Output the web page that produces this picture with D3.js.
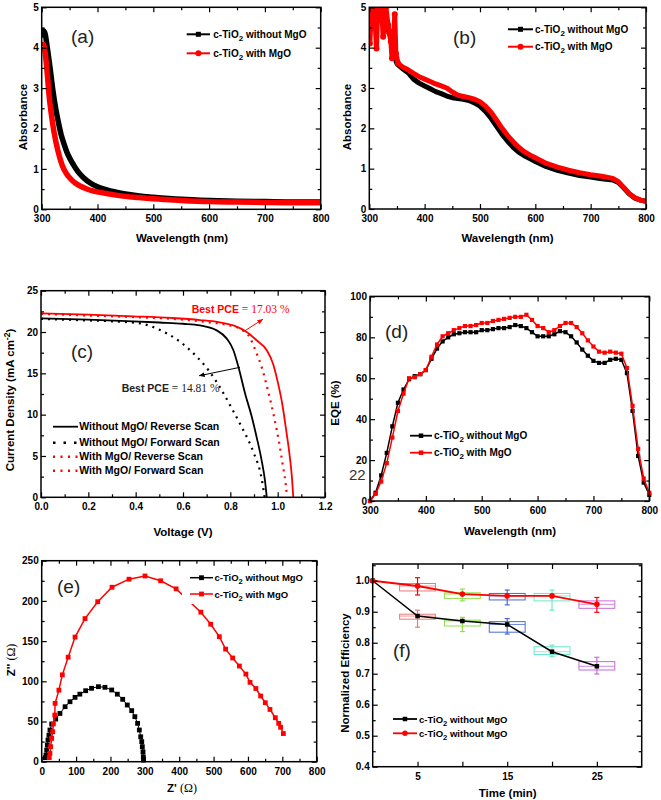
<!DOCTYPE html>
<html><head><meta charset="utf-8">
<script src="https://cdn.jsdelivr.net/npm/d3@7"></script>
<style>body{margin:0;background:#fff}</style>
</head><body>
<script>
// ---------- Panel (a) ----------
const aWlBlack = [300,303,306,310,315,320,325,330,335,340,345,350,357,365,375,387,400,425,450,475,500,550,600,650,700,750,800];
const aAbsBlack = [4.25,4.42,4.35,4.0,3.5,2.95,2.5,2.15,1.84,1.62,1.42,1.27,1.1,0.93,0.78,0.65,0.56,0.45,0.38,0.33,0.3,0.25,0.22,0.2,0.19,0.18,0.18];
const aWlRed = [300,303,306,310,313,317,322,329,337,345,350,360,370,380,390,400,425,450,475,500,550,600,650,700,750,800];
const aAbsRed = [4.05,4.08,3.9,3.35,2.85,2.38,1.92,1.45,1.08,0.87,0.78,0.65,0.57,0.51,0.46,0.43,0.37,0.32,0.29,0.26,0.22,0.19,0.18,0.17,0.16,0.16];
// ---------- Panel (b) ----------
const bWlBlack = [300,306,312,320,330,336,340,345,350,360,370,380,390,400,410,420,430,440,450,460,470,480,490,500,510,520,530,540,550,560,570,580,590,600,620,640,660,680,700,720,740,750,760,770,780,790,800];
const bAbsBlack = [4.9,4.8,4.95,4.7,4.5,4.4,4.2,3.8,3.6,3.48,3.38,3.22,3.12,3.05,2.98,2.91,2.86,2.8,2.76,2.74,2.72,2.69,2.63,2.55,2.42,2.25,2.05,1.85,1.68,1.53,1.41,1.32,1.25,1.18,1.05,0.96,0.89,0.83,0.79,0.75,0.72,0.66,0.52,0.37,0.27,0.22,0.19];
const bWlRed = [300,301,304,310,313,315,319,322,325,327,330,334,336,339,341,343,346,348,352,360,370,380,390,400,410,420,430,440,450,460,470,480,490,500,510,520,530,540,550,560,570,580,590,600,620,640,660,680,700,720,740,750,760,770,780,790,800];
const bAbsRed = [4.4,4.1,5.0,4.77,3.98,4.93,4.85,5.0,4.27,4.6,5.0,4.56,4.36,4.15,3.74,3.94,4.83,3.86,3.61,3.52,3.45,3.36,3.28,3.22,3.16,3.1,3.05,3.0,2.9,2.82,2.79,2.76,2.72,2.66,2.55,2.4,2.2,2.0,1.82,1.67,1.53,1.42,1.34,1.27,1.13,1.04,0.96,0.9,0.85,0.81,0.76,0.68,0.53,0.38,0.28,0.22,0.19];
// ---------- Panel (c) ----------
const cVBlackRev = [0,0.2,0.39,0.5,0.6,0.672,0.742,0.785,0.813,0.834,0.862,0.89,0.911,0.932,0.946,0.954];
const cJBlackRev = [21.65,21.5,21.3,21.15,21.0,20.8,20.2,19.2,17.8,15.8,12.6,9.8,7.3,4.5,2.1,0];
const cVBlackFwd = [0,0.1,0.2,0.3,0.418,0.503,0.587,0.651,0.707,0.763,0.806,0.848,0.897,0.932,0.945];
const cJBlackFwd = [21.6,21.5,21.4,21.3,21.05,20.24,18.83,17.22,15.4,12.98,10.77,8.5,5.5,2.3,0];
const cVRedRev = [0,0.2,0.39,0.55,0.672,0.75,0.813,0.869,0.911,0.954,0.98,1.0,1.02,1.035,1.05,1.06,1.066];
const cJRedRev = [22.26,22.1,21.9,21.7,21.45,21.2,20.8,20.0,19.0,17.8,16.2,14.0,11.2,8.3,5.2,2.5,0];
const cVRedFwd = [0,0.2,0.4,0.6,0.7,0.78,0.84,0.883,0.91,0.935,0.96,0.985,1.005,1.02,1.033,1.04];
const cJRedFwd = [22.2,22.0,21.8,21.5,21.2,20.9,20.4,19.3,17.5,15.5,12.8,9.7,6.8,4.2,1.8,0];
const cLegend = ["Without MgO/ Reverse Scan","Without MgO/ Forward Scan","With MgO/ Reverse Scan","With MgO/ Forward Scan"];
const cArrowRed = [[0.862,20.16],[0.937,21.54]];
const cArrowBlack = [[0.841,15.73],[0.669,14.71]];
// ---------- Panel (d) ----------
const dWl = [300,310,320,330,340,350,360,370,380,390,400,410,420,430,440,450,460,470,480,490,500,510,520,530,540,550,560,570,580,590,600,610,620,630,640,650,660,670,680,690,700,710,720,730,740,750,760,770,780,790,800];
const dEqeBlack = [0,4,12.5,23.5,36.5,48,54.5,59.5,61,62,64,69.5,74.5,78,80,81.5,82,82.5,82.5,82.5,83.5,83.5,84,84.5,84.5,85,86,85.5,84.5,82.5,80.5,80.5,80.5,81.5,83,82.5,80.5,77.5,74,71,68.5,67.5,67.5,69,69.5,69,62.5,44,22,9,3];
const dEqeRed = [0,3.5,9.5,18.5,31,44,52.5,60,60.5,62,64,70.5,76.5,80.5,82,83.5,84.5,85.5,85.5,86,87,87,88,88.5,89,89.5,90,90,91,88.5,85.5,84.5,82.5,83.5,85.5,87,87,85,82,78.5,75.5,73,72.5,73,72.5,72,65,46.5,25.5,11,4];
// ---------- Panel (e) ----------
const eZreBlack = [10.5,12.5,14.5,16.3,18.3,21,24,29,40.7,53,68,82.3,97,111,128,145,165,184,203.6,220,235.6,249,261.8,271,279,284,288,291,292.7,294.7,295.6,296];
const eZimBlack = [5,8.3,14.5,20.8,27,33,39.4,46.9,53,60,68.4,74.6,80,84,88.3,91.3,93.3,92.5,89.2,84,77.6,70.5,63.5,56,47.7,39.4,31,25,18.7,12.4,6.2,2];
const eZreRed = [22,24,26,29,32,34,38,39,50,60,77,97,126,163,204.5,254,300.5,346,391,463,491.6,516.7,535,555.6,575,594,606,623,637,650.5,664,679.6,689.5,695,703];
const eZimRed = [5,10.4,18.7,29,37.3,47,58,72.6,89,108,130,155,178,199,217,227,231,225,215,186,171,155.5,140,129,119,109,98.7,91,81.7,73.4,65,54.7,47.7,42.8,35];
// ---------- Panel (f) ----------
const fTime = [0,5,10,15,20,25];
const fBlack = [1.0,0.886,0.870,0.859,0.771,0.724];
const fRed = [1.0,0.983,0.957,0.951,0.951,0.924];
const boxTime = [5,10,15,20,25];
const boxColors = ["#f07878","#8ee04a","#4a68d4","#6ee8c8","#c86ad8"];
const redBoxLo = [0.967,0.943,0.938,0.935,0.911];
const redBoxHi = [0.991,0.961,0.959,0.959,0.935];
const redErrLo = [0.954,0.935,0.922,0.905,0.898];
const redErrHi = [1.01,0.973,0.97,0.97,0.946];
const blackBoxLo = [0.876,0.854,0.834,0.762,0.712];
const blackBoxHi = [0.892,0.873,0.868,0.787,0.739];
const blackErrLo = [0.85,0.836,0.828,0.755,0.699];
const blackErrHi = [0.905,0.882,0.878,0.792,0.753];

const SANS = '"Liberation Sans", Arial, Helvetica, sans-serif';
const SERIF = '"Liberation Serif", "Times New Roman", serif';
const svg = d3.select("body").append("svg").attr("width",661).attr("height",800);

function range(a,b,s){const r=[];for(let v=a;v<=b+1e-9;v+=s)r.push(+v.toFixed(4));return r;}

function frame(g,x,y,o){
  const [x0,x1]=x.range(), [y0,y1]=y.range();
  const mk=(fn,scale,vals,size,fmt,tr,pad)=>{
    const a=fn(scale).tickValues(vals).tickSizeInner(-size).tickSizeOuter(0).tickPadding(pad||4)
      .tickFormat(fmt||(()=>""));
    const gg=g.append("g").attr("transform",tr).call(a);
    gg.select(".domain").remove();
    gg.attr("font-family",SANS).attr("font-size",10).attr("font-weight","bold");
    gg.selectAll("line").attr("stroke","#000").attr("stroke-width",1.2);
    gg.selectAll("text").attr("fill","#000");
  };
  mk(d3.axisBottom,x,o.xMajor,5,o.xFmt,`translate(0,${y0})`,6);
  if(o.xMinor) mk(d3.axisBottom,x,o.xMinor,3,null,`translate(0,${y0})`);
  mk(d3.axisTop,x,o.xMajor,5,null,`translate(0,${y1})`);
  if(o.xMinor) mk(d3.axisTop,x,o.xMinor,3,null,`translate(0,${y1})`);
  mk(d3.axisLeft,y,o.yMajor,5,o.yFmt,`translate(${x0},0)`,3);
  if(o.yMinor) mk(d3.axisLeft,y,o.yMinor,3,null,`translate(${x0},0)`);
  mk(d3.axisRight,y,o.yMajor,5,null,`translate(${x1},0)`);
  if(o.yMinor) mk(d3.axisRight,y,o.yMinor,3,null,`translate(${x1},0)`);
  g.append("rect").attr("x",x0).attr("y",y1).attr("width",x1-x0).attr("height",y0-y1)
    .attr("fill","none").attr("stroke","#000").attr("stroke-width",1.5);
}
function tio2(t,rest){
  t.append("tspan").text("c-TiO");
  t.append("tspan").attr("font-size","0.8em").attr("dy",3).text("2");
  t.append("tspan").attr("dy",-3).text(rest);
}
function xTitle(g,cx,by,build){
  const t=g.append("text").attr("x",cx).attr("y",by).attr("text-anchor","middle")
    .attr("font-family",SANS).attr("font-weight","bold").attr("font-size",11.5);
  build(t);
}
function yTitle(g,cx,cy,build){
  const t=g.append("text").attr("transform",`translate(${cx},${cy}) rotate(-90)`).attr("text-anchor","middle")
    .attr("dy","0.35em").attr("font-family",SANS).attr("font-weight","bold").attr("font-size",11.5);
  build(t);
}
function tag(g,x,y,s){
  g.append("text").attr("x",x).attr("y",y).attr("font-family",SANS).attr("font-size",19)
    .attr("fill","#222").text(s);
}
function clip(id,x,y){
  const [x0,x1]=x.range(), [y0,y1]=y.range();
  svg.append("clipPath").attr("id",id).append("rect").attr("x",x0).attr("y",y1).attr("width",x1-x0).attr("height",y0-y1);
  return `url(#${id})`;
}
function sq(g,cx,cy,s,color){
  g.append("rect").attr("x",cx-s/2).attr("y",cy-s/2).attr("width",s).attr("height",s).attr("fill",color);
}
function legendRow(g,x1,x2,xt,cy,color,marker,size,fs,build,dash,lw){
  const l=g.append("line").attr("x1",x1).attr("x2",x2).attr("y1",cy).attr("y2",cy)
    .attr("stroke",color).attr("stroke-width",lw||1.8);
  if(dash) l.attr("stroke-dasharray",dash);
  const mx=(x1+x2)/2;
  if(marker==="sq") sq(g,mx,cy,size,color);
  if(marker==="ci") g.append("circle").attr("cx",mx).attr("cy",cy).attr("r",size/2).attr("fill",color);
  const t=g.append("text").attr("x",xt).attr("y",cy+3.6).attr("font-family",SANS).attr("font-weight","bold")
    .attr("font-size",fs).attr("fill","#000");
  build(t);
}
const zip=(a,b)=>a.map((v,i)=>[v,b[i]]);

// ===== Panel (a) =====
{
  const g=svg.append("g");
  const x=d3.scaleLinear().domain([300,800]).range([41.7,320.7]);
  const y=d3.scaleLinear().domain([0,5]).range([209.3,7.3]);
  const cp=clip("ca",x,y);
  const line=d3.line().x(d=>x(d[0])).y(d=>y(d[1])).curve(d3.curveMonotoneX);
  g.append("path").attr("d",line(zip(aWlBlack,aAbsBlack))).attr("fill","none").attr("stroke","#000").attr("stroke-width",5.5).attr("clip-path",cp);
  g.append("path").attr("d",line(zip(aWlRed,aAbsRed))).attr("fill","none").attr("stroke","#f00").attr("stroke-width",5.5).attr("clip-path",cp);
  frame(g,x,y,{xMajor:range(300,800,100),xMinor:range(350,750,100),yMajor:range(0,5,1),yMinor:range(0.5,4.5,1),xFmt:d3.format("d"),yFmt:d3.format("d")});
  xTitle(g,182,242,t=>t.text("Wavelength (nm)"));
  yTitle(g,23,117,t=>t.text("Absorbance"));
  tag(g,71,42.5,"(a)");
  legendRow(g,186.7,210,213.3,34.3,"#000","sq",5,10,t=>tio2(t," without MgO"),null,2);
  legendRow(g,186.7,210,213.3,53.3,"#f00","ci",6,10,t=>tio2(t," with MgO"),null,2);
}
// ===== Panel (b) =====
{
  const g=svg.append("g");
  const x=d3.scaleLinear().domain([300,800]).range([369.3,646]);
  const y=d3.scaleLinear().domain([0,5]).range([209,7.3]);
  const cp=clip("cb",x,y);
  const line=d3.line().x(d=>x(d[0])).y(d=>y(d[1]));
  const bd=zip(bWlBlack,bAbsBlack), rd=zip(bWlRed,bAbsRed);
  g.append("path").attr("d",line(bd)).attr("fill","none").attr("stroke","#000").attr("stroke-width",5).attr("stroke-linejoin","round").attr("clip-path",cp);
  bd.filter(d=>d[0]<345).forEach(d=>{g.append("rect").attr("x",x(d[0])-2.5).attr("y",y(d[1])-2.5).attr("width",5).attr("height",5).attr("fill","#000").attr("clip-path",cp);});
  g.append("path").attr("d",line(rd)).attr("fill","none").attr("stroke","#f00").attr("stroke-width",5).attr("stroke-linejoin","round").attr("clip-path",cp);
  g.append("path").attr("d",line(rd.filter(d=>d[0]<360))).attr("fill","none").attr("stroke","#f00").attr("stroke-width",1.5).attr("clip-path",cp);
  g.selectAll(".rc").data(rd.filter(d=>d[0]<360)).enter().append("circle").attr("cx",d=>x(d[0])).attr("cy",d=>y(d[1])).attr("r",3).attr("fill","#f00").attr("clip-path",cp);
  frame(g,x,y,{xMajor:range(300,800,100),xMinor:range(350,750,100),yMajor:range(0,5,1),yMinor:range(0.5,4.5,1),xFmt:d3.format("d"),yFmt:d3.format("d")});
  xTitle(g,507.5,242,t=>t.text("Wavelength (nm)"));
  yTitle(g,347,117,t=>t.text("Absorbance"));
  tag(g,453,43.5,"(b)");
  legendRow(g,508,533,535,29.3,"#000","sq",5,10,t=>tio2(t," without MgO"),null,2);
  legendRow(g,508,533,535,46.7,"#f00","ci",6,10,t=>tio2(t," with MgO"),null,2);
}
// ===== Panel (c) =====
{
  const g=svg.append("g");
  const x=d3.scaleLinear().domain([0,1.2]).range([41,325]);
  const y=d3.scaleLinear().domain([0,25]).range([497.3,290.7]);
  const cp=clip("cc",x,y);
  const line=d3.line().x(d=>x(d[0])).y(d=>y(d[1])).curve(d3.curveMonotoneX);
  const series=[[cVBlackRev,cJBlackRev,"#000",null],[cVBlackFwd,cJBlackFwd,"#000","2,5"],[cVRedRev,cJRedRev,"#f00",null],[cVRedFwd,cJRedFwd,"#f00","2,5"]];
  series.forEach(s=>{
    const p=g.append("path").attr("d",line(zip(s[0],s[1]))).attr("fill","none").attr("stroke",s[2])
      .attr("stroke-width",s[3]?2.2:1.8).attr("clip-path",cp);
    if(s[3]) p.attr("stroke-dasharray",s[3]);
  });
  frame(g,x,y,{xMajor:range(0,1.2,0.2),xMinor:range(0.1,1.1,0.2),yMajor:range(0,25,5),yMinor:range(2.5,22.5,5),xFmt:d3.format(".1f"),yFmt:d3.format("d")});
  xTitle(g,183,536,t=>t.text("Voltage (V)"));
  yTitle(g,10,400,t=>{t.append("tspan").text("Current Density (mA cm");t.append("tspan").attr("font-size","0.75em").attr("dy",-4).text("-2");t.append("tspan").attr("dy",4).text(")");});
  tag(g,71,358,"(c)");
  const defs=svg.append("defs");
  [["arR","#f00"],["arK","#000"]].forEach(([id,c])=>{
    defs.append("marker").attr("id",id).attr("viewBox","0 0 10 10").attr("refX",9).attr("refY",5)
      .attr("markerWidth",6).attr("markerHeight",6).attr("orient","auto")
      .append("path").attr("d","M0,1 L10,5 L0,9 Z").attr("fill",c);
  });
  g.append("line").attr("x1",x(cArrowRed[0][0])).attr("y1",y(cArrowRed[0][1])).attr("x2",x(cArrowRed[1][0])).attr("y2",y(cArrowRed[1][1]))
    .attr("stroke","#f00").attr("stroke-width",1).attr("marker-end","url(#arR)");
  g.append("line").attr("x1",x(cArrowBlack[0][0])).attr("y1",y(cArrowBlack[0][1])).attr("x2",x(cArrowBlack[1][0])).attr("y2",y(cArrowBlack[1][1]))
    .attr("stroke","#000").attr("stroke-width",1).attr("marker-end","url(#arK)");
  const pce=(px,py,c,val)=>{
    const t=g.append("text").attr("x",px).attr("y",py).attr("fill",c);
    t.append("tspan").attr("font-family",SANS).attr("font-weight","bold").attr("font-size",10.5).text("Best PCE");
    t.append("tspan").attr("font-family",SERIF).attr("font-size",11.5).text(" = "+val+" %");
  };
  pce(191.7,313,"#f00","17.03");
  pce(121.7,391.5,"#222","14.81");
  const cols=["#000","#000","#f00","#f00"], dashes=[null,"2.5,8","2,5.5","2,5.5"], ys=[426.7,442.7,456.7,470.7];
  cLegend.forEach((s,i)=>legendRow(g,53,78,79.3,ys[i],cols[i],null,0,10.5,t=>t.text(s),dashes[i],dashes[i]?2.4:1.8));
}
// ===== Panel (d) =====
{
  const g=svg.append("g");
  const x=d3.scaleLinear().domain([300,800]).range([370,649.3]);
  const y=d3.scaleLinear().domain([0,100]).range([501,296.4]);
  const line=d3.line().x(d=>x(d[0])).y(d=>y(d[1]));
  [[dEqeBlack,"#000"],[dEqeRed,"#f00"]].forEach(([v,c])=>{
    const d=zip(dWl,v);
    g.append("path").attr("d",line(d)).attr("fill","none").attr("stroke",c).attr("stroke-width",1.5);
    d.forEach(p=>sq(g,x(p[0]),y(p[1]),4.2,c));
  });
  frame(g,x,y,{xMajor:range(300,800,100),xMinor:range(350,750,100),yMajor:range(0,100,20),yMinor:range(10,90,20),xFmt:d3.format("d"),yFmt:d3.format("d")});
  xTitle(g,510,535,t=>t.text("Wavelength (nm)"));
  yTitle(g,335,403,t=>t.text("EQE (%)"));
  tag(g,385,338,"(d)");
  legendRow(g,410,432,434,435.7,"#000","sq",4.5,10,t=>tio2(t," without MgO"),null,1.8);
  legendRow(g,410,432,434,452.7,"#f00","sq",4.5,10,t=>tio2(t," with MgO"),null,1.8);
  g.append("text").attr("x",349).attr("y",480).attr("font-family",SANS).attr("font-size",15).attr("fill","#333").text("22");
}
// ===== Panel (e) =====
{
  const g=svg.append("g");
  const x=d3.scaleLinear().domain([0,800]).range([41.7,316.7]);
  const y=d3.scaleLinear().domain([0,250]).range([761.7,560.7]);
  const line=d3.line().x(d=>x(d[0])).y(d=>y(d[1]));
  const bd=zip(eZreBlack,eZimBlack), rd=zip(eZreRed,eZimRed);
  g.append("path").attr("d",line(bd)).attr("fill","none").attr("stroke","#000").attr("stroke-width",1);
  bd.forEach(p=>sq(g,x(p[0]),y(p[1]),4.8,"#000"));
  g.append("path").attr("d",line(rd)).attr("fill","none").attr("stroke","#f00").attr("stroke-width",1.5);
  rd.forEach(p=>sq(g,x(p[0]),y(p[1]),4.8,"#f00"));
  g.append("rect").attr("x",182).attr("y",565).attr("width",133).attr("height",39).attr("fill","#fff");
  frame(g,x,y,{xMajor:range(0,800,100),xMinor:range(50,750,100),yMajor:range(0,250,50),yMinor:range(25,225,50),xFmt:d3.format("d"),yFmt:d3.format("d")});
  xTitle(g,182,792,t=>{t.append("tspan").text("Z' ");t.append("tspan").attr("font-family",SERIF).attr("font-weight","normal").attr("font-size",12).text("(Ω)");});
  yTitle(g,11,660,t=>{t.append("tspan").text("Z'' ");t.append("tspan").attr("font-family",SERIF).attr("font-weight","normal").attr("font-size",12).text("(Ω)");});
  tag(g,57,593,"(e)");
  legendRow(g,190,213,214.5,577.7,"#000","sq",4.8,9.5,t=>tio2(t," without MgO"),null,1.5);
  legendRow(g,190,213,214.5,594,"#f00","sq",4.8,9.5,t=>tio2(t," with MgO"),null,1.5);
}
// ===== Panel (f) =====
{
  const g=svg.append("g");
  const x=d3.scaleLinear().domain([0,30]).range([372.7,641.7]);
  const y=d3.scaleLinear().domain([0.4,1.054]).range([766.7,564]);
  const box=(t,lo,hi,mid,c)=>{
    g.append("rect").attr("x",x(t-2)).attr("y",y(hi)).attr("width",x(t+2)-x(t-2)).attr("height",y(lo)-y(hi))
      .attr("fill","none").attr("stroke",c).attr("stroke-width",1);
    g.append("line").attr("x1",x(t-2)).attr("x2",x(t+2)).attr("y1",y(mid)).attr("y2",y(mid)).attr("stroke",c).attr("stroke-width",0.8);
  };
  const err=(t,lo,hi,c)=>{
    g.append("line").attr("x1",x(t)).attr("x2",x(t)).attr("y1",y(lo)).attr("y2",y(hi)).attr("stroke",c).attr("stroke-width",1.2);
    [lo,hi].forEach(v=>g.append("line").attr("x1",x(t)-2.5).attr("x2",x(t)+2.5).attr("y1",y(v)).attr("y2",y(v)).attr("stroke",c).attr("stroke-width",1.2));
  };
  boxTime.forEach((t,i)=>{
    box(t,redBoxLo[i],redBoxHi[i],fRed[i+1],boxColors[i]);
    box(t,blackBoxLo[i],blackBoxHi[i],fBlack[i+1],boxColors[i]);
    err(t,blackErrLo[i],blackErrHi[i],boxColors[i]);
    err(t,redErrLo[i],redErrHi[i],i===0||i===4?"#f00":boxColors[i]);
  });
  const line=d3.line().x(d=>x(d[0])).y(d=>y(d[1]));
  g.append("path").attr("d",line(zip(fTime,fBlack))).attr("fill","none").attr("stroke","#000").attr("stroke-width",1.5);
  zip(fTime,fBlack).forEach(p=>sq(g,x(p[0]),y(p[1]),4.5,"#000"));
  g.append("path").attr("d",line(zip(fTime,fRed))).attr("fill","none").attr("stroke","#f00").attr("stroke-width",1.8);
  zip(fTime,fRed).forEach(p=>g.append("circle").attr("cx",x(p[0])).attr("cy",y(p[1])).attr("r",2.8).attr("fill","#f00"));
  frame(g,x,y,{xMajor:range(5,25,5),yMajor:range(0.4,1.0,0.1),yMinor:range(0.45,1.05,0.1),xFmt:v=>(v%10===5?String(v):""),yFmt:d3.format(".1f")});
  xTitle(g,507.7,797,t=>t.text("Time (min)"));
  yTitle(g,345,673,t=>t.text("Normalized Efficiency"));
  tag(g,393,657,"(f)");
  legendRow(g,393,417,419,719,"#000","sq",4.5,9.5,t=>tio2(t," without MgO"),null,1.8);
  legendRow(g,393,417,419,733.3,"#f00","ci",5.5,9.5,t=>tio2(t," without MgO"),null,1.8);
}
</script>
</body></html>
